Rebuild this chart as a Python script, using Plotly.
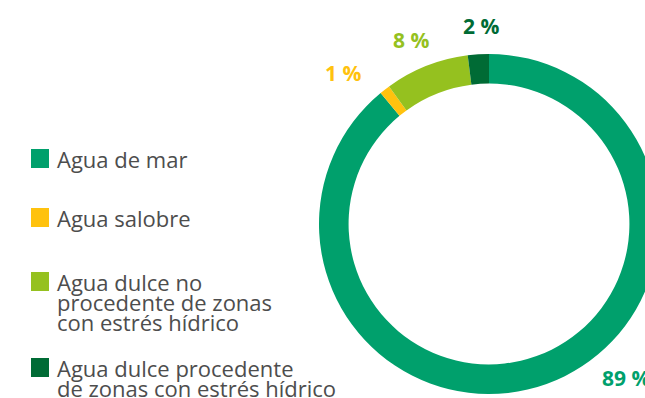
import plotly.graph_objects as go

# Water withdrawal by source (percent of total)
categories = [
    "Agua de mar",
    "Agua salobre",
    "Agua dulce no procedente de zonas con estrés hídrico",
    "Agua dulce procedente de zonas con estrés hídrico",
]
values = [89, 1, 8, 2]
colors = ["#00A06C", "#FFC20E", "#95C11F", "#006B35"]

# Legend text split into display lines
legend_lines = [
    ["Agua de mar"],
    ["Agua salobre"],
    ["Agua dulce no", "procedente de zonas", "con estrés hídrico"],
    ["Agua dulce procedente", "de zonas con estrés hídrico"],
]

W, H = 665, 398  # canvas is wider than the view so the ring runs off the right edge


def px(x):
    return x / W


def py(y):
    return 1 - y / H


fig = go.Figure()
fig.add_trace(
    go.Pie(
        labels=categories,
        values=values,
        marker=dict(colors=colors, line=dict(width=0)),
        hole=0.826,
        sort=False,
        direction="clockwise",
        rotation=0,
        textinfo="none",
        hoverinfo="label+percent",
        showlegend=False,
        domain=dict(x=[px(319), px(659)], y=[py(394), py(54)]),
    )
)

# Percentage labels around the ring
label_pos = [(600, 378, "left"), (343, 73, "center"), (411, 40, "center"), (481, 26, "center")]
annotations = []
for v, c, (x, y, xa) in zip(values, colors, label_pos):
    annotations.append(
        dict(
            text=f"<b>{v} %</b>",
            x=px(x), y=py(y), xref="paper", yref="paper",
            xanchor=xa, yanchor="middle", showarrow=False,
            font=dict(family="Open Sans", size=21, color=c),
        )
    )

# Legend: colour squares and text lines
shapes = []
square_tops = [149, 208, 272, 358]
line_gap = 20
for top, c, lines in zip(square_tops, colors, legend_lines):
    shapes.append(
        dict(
            type="rect", xref="paper", yref="paper",
            x0=px(31), x1=px(49), y0=py(top + 19), y1=py(top),
            fillcolor=c, line=dict(width=0),
        )
    )
    for i, line in enumerate(lines):
        baseline = top + 18 + i * line_gap
        annotations.append(
            dict(
                text=line,
                x=px(55), y=py(baseline - 8), xref="paper", yref="paper",
                xanchor="left", yanchor="middle", showarrow=False,
                font=dict(family="Open Sans", size=22, color="#4D4D4D"),
            )
        )

fig.update_layout(
    width=W, height=H,
    margin=dict(l=0, r=0, t=0, b=0),
    paper_bgcolor="white",
    plot_bgcolor="white",
    annotations=annotations,
    shapes=shapes,
)

fig.write_html(
    "out.html",
    post_script="document.documentElement.style.overflow='hidden';document.body.style.overflow='hidden';",
)
